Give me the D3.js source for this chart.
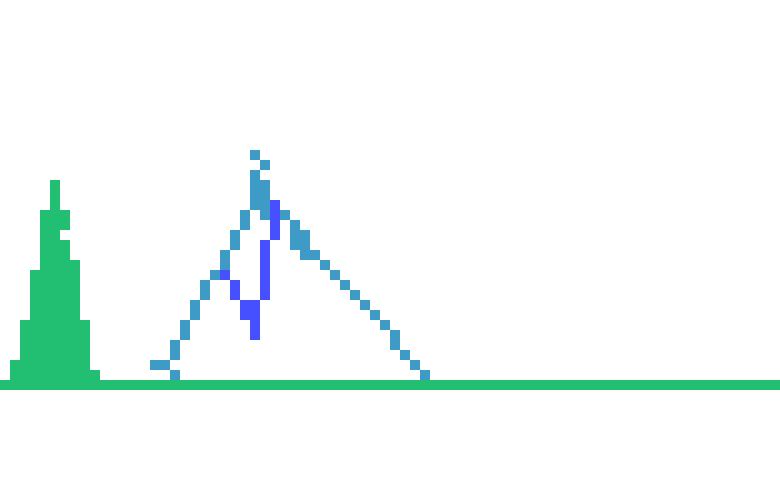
<!DOCTYPE html>
<html>
<head>
<meta charset="utf-8">
<script src="https://cdnjs.cloudflare.com/ajax/libs/d3/7.8.5/d3.min.js"></script>
<style>
  html, body { margin: 0; padding: 0; background: #fff; }
  svg { display: block; }
</style>
</head>
<body>
<svg id="chart"></svg>
<script>
// grid columns 0..77, levels counted up from the baseline row (level 0)
var columns = d3.range(78);

// green histogram: top level of each column (baseline = 0)
var greenTop = [0, 2, 6, 11, 17, 20, 17, 12, 6, 1];
// holes inside the green columns: [column, level]
var greenGaps = [[6, 15]];

// light blue line: [column, fromLevel, toLevel]
var lightRuns = [
  [15, 2, 2], [16, 2, 2], [17, 1, 1], [17, 3, 4], [18, 5, 6], [19, 7, 8],
  [20, 9, 10], [21, 11, 11], [22, 12, 13], [23, 14, 15], [24, 16, 17],
  [25, 18, 21], [25, 23, 23], [26, 17, 20], [26, 22, 22],
  [28, 17, 17], [29, 14, 16], [30, 13, 15], [31, 13, 13], [32, 12, 12],
  [33, 11, 11], [34, 10, 10], [35, 9, 9], [36, 8, 8], [37, 7, 7],
  [38, 6, 6], [39, 4, 5], [40, 3, 3], [41, 2, 2], [42, 1, 1]
];

// dark blue line: [column, fromLevel, toLevel]
var darkRuns = [
  [22, 11, 11], [23, 9, 10], [24, 7, 8], [25, 5, 8], [26, 9, 14], [27, 15, 18]
];

var colors = {
  green: "#22bf73",
  light: "#3e9bc5",
  dark: "#4650fe"
};

var width = 780, height = 480;

var svg = d3.select("#chart")
  .attr("width", width)
  .attr("height", height)
  .attr("shape-rendering", "crispEdges");

var x = d3.scaleBand()
  .domain(columns)
  .range([0, width])
  .padding(0);

var y = d3.scaleLinear()
  .domain([-9, 39])
  .range([height, 0]);

var greenData = columns.map(function (c) {
  return { col: c, top: c < greenTop.length ? greenTop[c] : 0 };
});

svg.append("g")
  .attr("class", "green")
  .selectAll("rect")
  .data(greenData)
  .enter()
  .append("rect")
  .attr("x", function (d) { return x(d.col); })
  .attr("width", x.bandwidth())
  .attr("y", function (d) { return y(d.top + 1); })
  .attr("height", function (d) { return y(0) - y(d.top + 1); })
  .style("fill", colors.green);

svg.append("g")
  .attr("class", "green-gaps")
  .selectAll("rect")
  .data(greenGaps)
  .enter()
  .append("rect")
  .attr("x", function (d) { return x(d[0]); })
  .attr("width", x.bandwidth())
  .attr("y", function (d) { return y(d[1] + 1); })
  .attr("height", function (d) { return y(d[1]) - y(d[1] + 1); })
  .style("fill", "#fff");

function drawRuns(cls, runs, color) {
  svg.append("g")
    .attr("class", cls)
    .selectAll("rect")
    .data(runs)
    .enter()
    .append("rect")
    .attr("x", function (d) { return x(d[0]); })
    .attr("width", x.bandwidth())
    .attr("y", function (d) { return y(d[2] + 1); })
    .attr("height", function (d) { return y(d[1]) - y(d[2] + 1); })
    .style("fill", color);
}

drawRuns("light-line", lightRuns, colors.light);
drawRuns("dark-line", darkRuns, colors.dark);
</script>
</body>
</html>
